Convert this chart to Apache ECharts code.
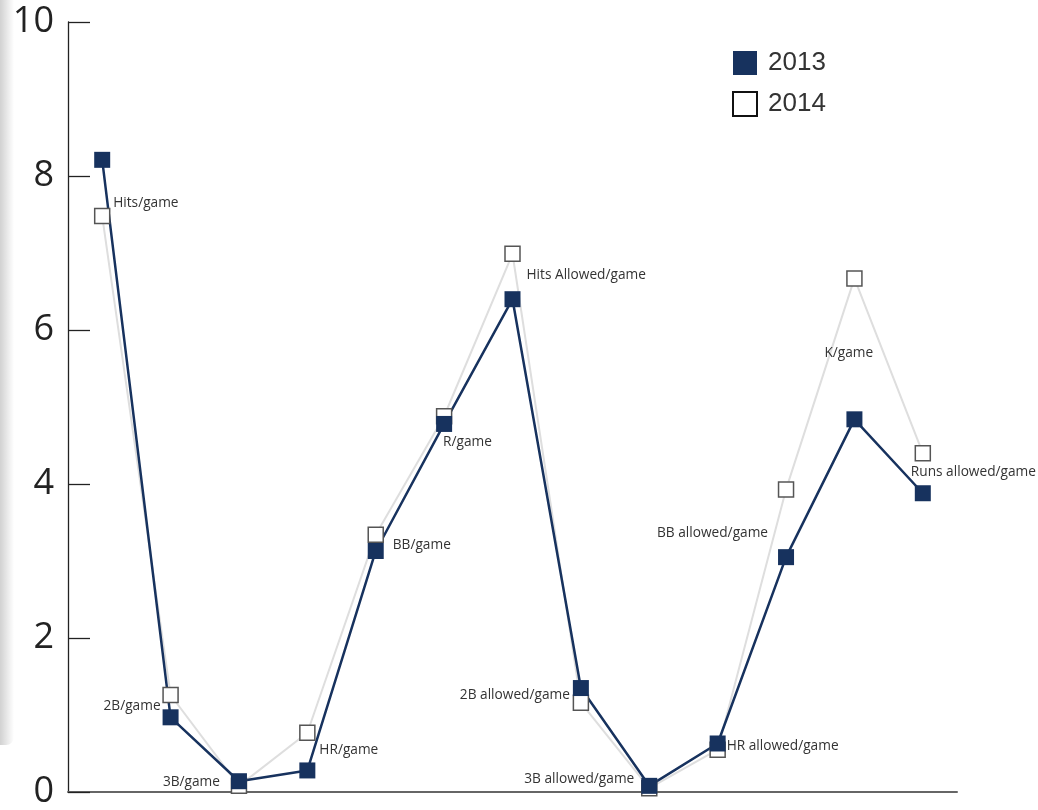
<!DOCTYPE html>
<html>
<head>
<meta charset="utf-8">
<script src="https://cdn.jsdelivr.net/npm/echarts@6/dist/echarts.min.js"></script>
<style>
html,body{margin:0;padding:0;background:#fff;}
#c{width:1038px;height:810px;}
</style>
</head>
<body>
<div id="c"></div>
<script>
const categories = ['Hits/game','2B/game','3B/game','HR/game','BB/game','R/game','Hits Allowed/game','2B allowed/game','3B allowed/game','HR allowed/game','BB allowed/game','K/game','Runs allowed/game'];
const values2013 = [8.21, 0.97, 0.14, 0.28, 3.13, 4.78, 6.40, 1.35, 0.08, 0.63, 3.05, 4.84, 3.88];
const values2014 = [7.48, 1.26, 0.08, 0.77, 3.34, 4.88, 6.99, 1.16, 0.05, 0.55, 3.93, 6.67, 4.40];
const yTicks = [0, 2, 4, 6, 8, 10];

// label placement per category: [align, dx, dy] relative to the 2013 marker
const labelPlace = [
  ['left', 11, 43],
  ['right', -10, -11],
  ['right', -19, 1],
  ['left', 12, -20],
  ['left', 17, -6],
  ['left', -1, 18],
  ['left', 14, -24],
  ['right', -11, 7],
  ['right', -15, -7],
  ['left', 9, 3],
  ['right', -18, -24],
  ['left', -30, -66],
  ['left', -12, -21]
];

const NAVY = '#17325e';
const FONT = 'Open Sans';

const labeled2013 = values2013.map((v, i) => ({
  value: v,
  label: {
    show: true,
    formatter: categories[i],
    position: 'inside',
    align: labelPlace[i][0],
    verticalAlign: 'middle',
    offset: [labelPlace[i][1], labelPlace[i][2]],
    color: '#333',
    fontSize: 13.7,
    fontFamily: FONT,
    textBorderWidth: 0
  }
}));

const chart = echarts.init(document.getElementById('c'), null, {renderer: 'canvas'});
chart.setOption({
  animation: false,
  backgroundColor: '#fff',
  graphic: [{
    type: 'rect',
    shape: {x: 0, y: 0, width: 14, height: 745, r: [0, 0, 8, 0]},
    style: {
      fill: new echarts.graphic.LinearGradient(0, 0, 1, 0, [
        {offset: 0, color: 'rgba(0,0,0,0.18)'},
        {offset: 1, color: 'rgba(0,0,0,0)'}
      ])
    },
    z: -10
  }],
  grid: {left: 68, right: 81, top: 22, bottom: 11.5, containLabel: false},
  legend: {
    orient: 'vertical',
    left: 727,
    top: 45,
    itemWidth: 24,
    itemHeight: 24,
    itemGap: 15,
    textStyle: {fontSize: 26, color: '#333', fontFamily: 'Liberation Sans', padding: [0, 0, 0, 6]},
    data: [
      {name: '2013', icon: 'rect', itemStyle: {color: NAVY, borderWidth: 0}},
      {name: '2014', icon: 'rect', itemStyle: {color: '#fff', borderColor: '#111', borderWidth: 2}}
    ]
  },
  xAxis: {
    type: 'category',
    data: categories,
    boundaryGap: true,
    axisLine: {show: true, lineStyle: {color: '#666', width: 2}},
    axisTick: {show: false},
    axisLabel: {show: false},
    splitLine: {show: false}
  },
  yAxis: {
    type: 'value',
    min: yTicks[0],
    max: yTicks[yTicks.length - 1],
    interval: yTicks[1] - yTicks[0],
    axisLine: {show: true, lineStyle: {color: '#222', width: 1.3}},
    axisTick: {show: true, inside: true, length: 22, lineStyle: {color: '#222', width: 1.3}},
    axisLabel: {fontSize: 36, color: '#222', fontFamily: FONT, margin: 14, padding: [4, 0, 0, 0]},
    splitLine: {show: false}
  },
  series: [
    {
      name: '2014', type: 'line', data: values2014, z: 1,
      symbol: 'none',
      lineStyle: {color: '#dedede', width: 2},
      itemStyle: {color: '#fff', borderColor: '#111'}
    },
    {
      name: '2013', type: 'line', data: values2013, z: 2,
      symbol: 'none',
      lineStyle: {color: NAVY, width: 2.5},
      itemStyle: {color: NAVY}
    },
    {
      name: '2014', type: 'scatter', data: values2014, z: 3,
      symbol: 'rect', symbolSize: 15,
      itemStyle: {color: '#fff', borderColor: '#555', borderWidth: 1.5, opacity: 1}
    },
    {
      name: '2013', type: 'scatter', data: labeled2013, z: 4,
      symbol: 'rect', symbolSize: 16,
      itemStyle: {color: NAVY, opacity: 1}
    }
  ]
});
</script>
</body>
</html>
